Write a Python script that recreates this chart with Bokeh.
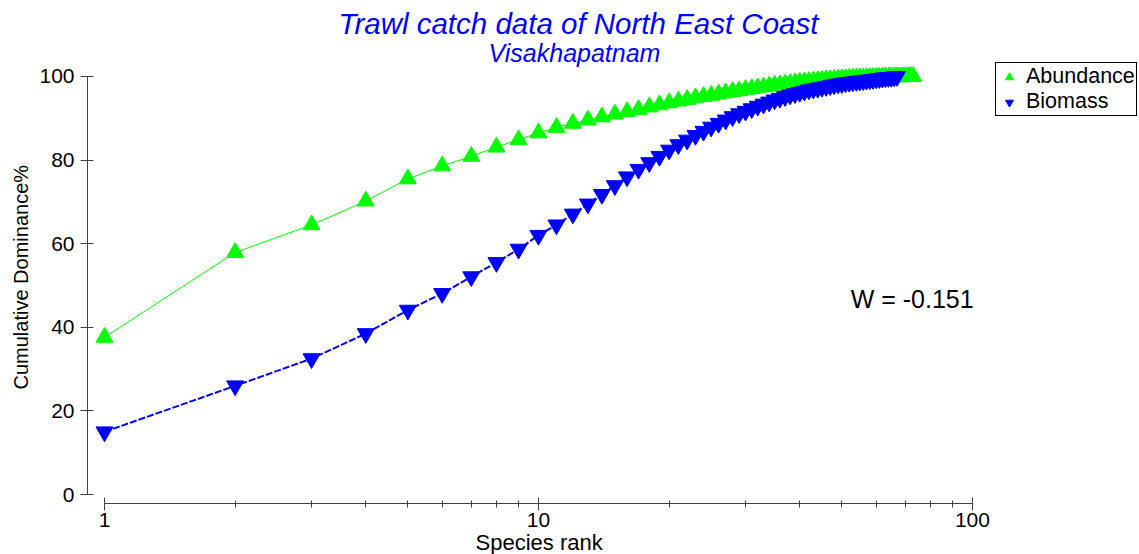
from bokeh.plotting import figure
from bokeh.models import (FixedTicker, Label, Legend, LegendItem, Range1d, Title,
                          BasicTickFormatter)
from bokeh.embed import file_html
from bokeh.resources import INLINE

# ---------------- data ----------------
abundance_rank = list(range(1, 74))
abundance = [37.6, 57.9, 64.5, 70.2, 75.5, 78.6, 80.9, 83.1, 84.9, 86.5,
             87.8, 88.8, 89.6, 90.3, 91.0, 91.6, 92.1, 92.7, 93.2, 93.7,
             94.1, 94.5, 94.9, 95.2, 95.5, 95.8, 96.1, 96.4, 96.6, 96.9,
             97.1, 97.3, 97.5, 97.7, 97.9, 98.0, 98.2, 98.3, 98.5, 98.6,
             98.7, 98.8, 98.9, 99.0, 99.1, 99.2, 99.25, 99.3, 99.4, 99.45,
             99.5, 99.55, 99.6, 99.63, 99.66, 99.69, 99.72, 99.75, 99.78, 99.8,
             99.82, 99.84, 99.86, 99.88, 99.9, 99.91, 99.93, 99.94, 99.95, 99.96,
             99.97, 99.99, 100.0]
biomass_rank = list(range(1, 68))
biomass = [15.0, 26.0, 32.5, 38.5, 44.1, 48.1, 52.1, 55.5, 58.7, 62.0,
           64.5, 67.1, 69.5, 71.8, 73.9, 76.0, 77.8, 79.4, 80.9, 82.4,
           83.7, 84.8, 85.9, 86.9, 87.9, 88.8, 89.6, 90.4, 91.1, 91.7,
           92.3, 92.9, 93.4, 93.9, 94.4, 94.8, 95.2, 95.6, 95.9, 96.2,
           96.5, 96.8, 97.0, 97.2, 97.4, 97.6, 97.8, 98.0, 98.2, 98.3,
           98.5, 98.6, 98.7, 98.8, 98.9, 99.0, 99.1, 99.2, 99.3, 99.4,
           99.5, 99.6, 99.7, 99.75, 99.8, 99.9, 100.0]
x_major_ticks = [1, 10, 100]
x_minor_ticks = [2, 3, 4, 5, 6, 7, 8, 9, 20, 30, 40, 50, 60, 70, 80, 90]
y_major_ticks = [0, 20, 40, 60, 80, 100]
main_title = "Trawl catch data of North East Coast"
sub_title = "Visakhapatnam"
x_title = "Species rank"
y_title = "Cumulative Dominance%"
w_statistic = "W = -0.151"

FONT = "Liberation Sans"
GREEN = "#00FF00"
BLUE = "#0000FF"
AXIS = "#404040"

# The frame fills the canvas to the right and top; the axes are bounded to
# their data extents, so titles and legend can sit inside the frame.
p = figure(width=1139, height=554, x_axis_type="log",
           x_range=Range1d(0.9138, 242.6), y_range=Range1d(-2.15, 118.18),
           output_backend="svg", toolbar_location=None, title=None,
           min_border_left=87, min_border_right=0,
           min_border_top=0, min_border_bottom=51)
p.outline_line_color = None
p.grid.visible = False
p.background_fill_color = "white"
p.border_fill_color = "white"

# lines and markers
p.line(abundance_rank, abundance, line_color=GREEN, line_width=1)
ga = p.scatter(abundance_rank, abundance, marker="triangle", size=17,
               fill_color=GREEN, line_color=GREEN)
p.line(biomass_rank, biomass, line_color=BLUE, line_width=2, line_dash="7 2")
bb = p.scatter(biomass_rank, biomass, marker="inverted_triangle", size=17,
               fill_color=BLUE, line_color=BLUE)

# axes
xa = p.xaxis[0]
xa.ticker = FixedTicker(ticks=x_major_ticks, minor_ticks=x_minor_ticks)
xa.formatter = BasicTickFormatter()
xa.bounds = (1, 100)
ya = p.yaxis[0]
ya.ticker = FixedTicker(ticks=y_major_ticks, minor_ticks=[])
ya.bounds = (0, 100)
for ax in (xa, ya):
    ax.axis_line_color = AXIS
    ax.major_tick_line_color = AXIS
    ax.minor_tick_line_color = AXIS
    ax.major_tick_in = 6
    ax.major_tick_out = 7
    ax.minor_tick_in = 3
    ax.minor_tick_out = 4
    ax.major_label_text_font = FONT
    ax.major_label_text_font_size = "21px"
    ax.major_label_text_color = "black"
xa.major_label_standoff = 2
ya.major_label_standoff = 6

# axis titles, centred on the bounded axis extents
p.add_layout(Title(text=x_title, text_font=FONT, text_font_size="22px",
                   text_font_style="normal", text_color="black", align="left",
                   offset=388, standoff=-4, vertical_align="bottom"), "below")
p.add_layout(Title(text=y_title, text_font=FONT, text_font_size="20px",
                   text_font_style="normal", text_color="black", align="left",
                   offset=114, standoff=10, vertical_align="bottom"), "left")

# chart titles (screen units, measured from the frame's bottom-left corner)
p.add_layout(Label(x=491, y=480, x_units="screen", y_units="screen",
                   text=main_title, text_font=FONT, text_font_size="29.5px",
                   text_font_style="italic", text_color=BLUE,
                   text_align="center", text_baseline="middle"))
p.add_layout(Label(x=487, y=451, x_units="screen", y_units="screen",
                   text=sub_title, text_font=FONT, text_font_size="25px",
                   text_font_style="italic", text_color=BLUE,
                   text_align="center", text_baseline="middle"))

# W statistic
p.add_layout(Label(x=52.4, y=46.7, text=w_statistic,
                   text_font=FONT, text_font_size="25px", text_color="black",
                   text_align="left", text_baseline="middle"))

legend = Legend(items=[LegendItem(label="Abundance", renderers=[ga]),
                       LegendItem(label="Biomass", renderers=[bb])],
                location=(908, 387))
legend.border_line_color = "black"
legend.border_line_width = 1
legend.border_line_alpha = 1
legend.background_fill_color = "white"
legend.padding = 1
legend.spacing = -3
legend.margin = 0
legend.label_text_font = FONT
legend.label_text_font_size = "21.5px"
legend.label_text_color = "black"
legend.label_standoff = 5
legend.glyph_width = 24
legend.glyph_height = 20
legend.label_height = 20
p.add_layout(legend)

open("out.html", "w").write(file_html(p, INLINE))
